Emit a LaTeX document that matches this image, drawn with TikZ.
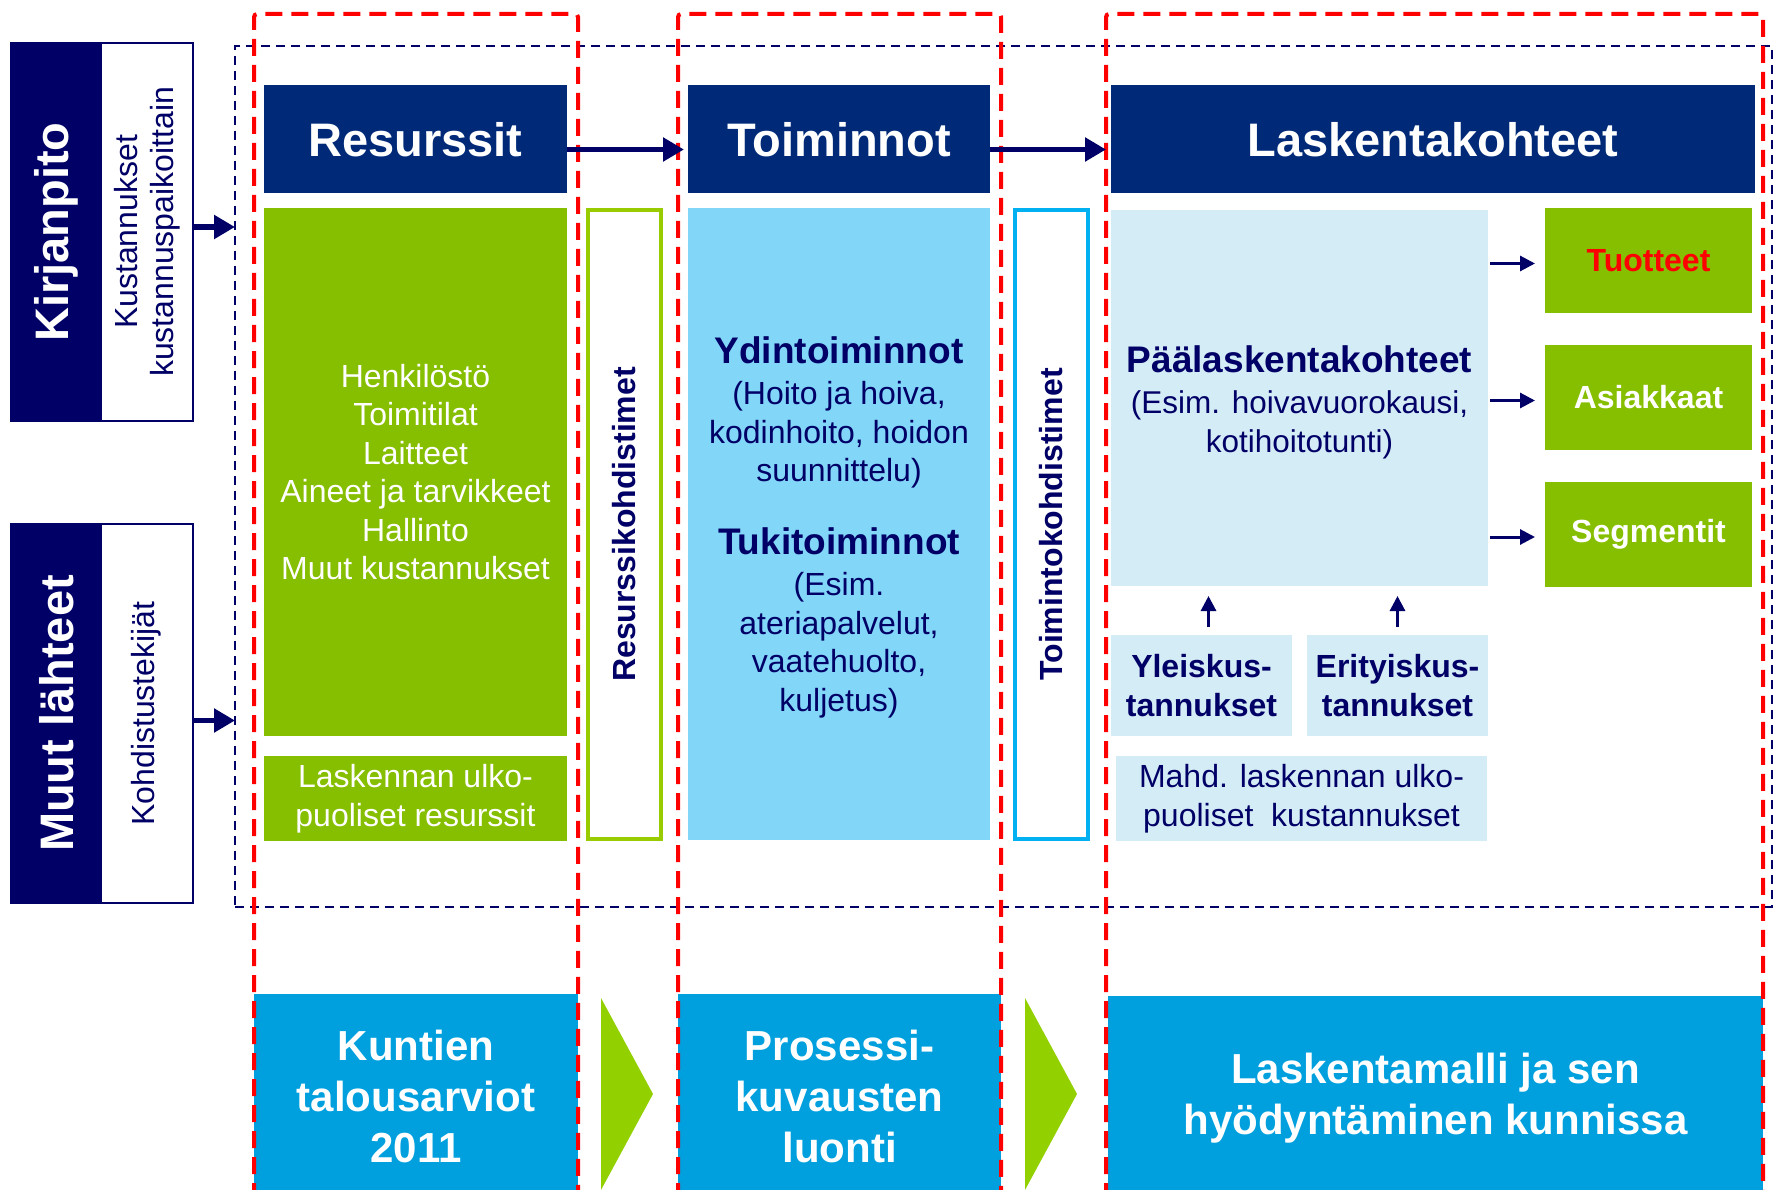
\documentclass[tikz,border=0pt]{standalone}
\usepackage{fontspec}
\setmainfont{Liberation Sans}
\usetikzlibrary{arrows.meta}
\definecolor{navy}{HTML}{000066}
\definecolor{hdrc}{HTML}{002A78}
\definecolor{grn}{HTML}{86BE00}
\definecolor{grnb}{HTML}{99CC00}
\definecolor{trig}{HTML}{92D000}
\definecolor{sky}{HTML}{82D6F7}
\definecolor{pale}{HTML}{D4ECF6}
\definecolor{bblue}{HTML}{00A0DE}
\definecolor{cyanb}{HTML}{00B0F0}
\definecolor{redd}{HTML}{FF0000}
\begin{document}
\begin{tikzpicture}[x=1pt,y=-1pt,
  every node/.style={inner sep=0pt, outer sep=0pt, align=center},
  hdr/.style={fill=hdrc, text=white, font=\fontsize{47}{56}\selectfont\bfseries, minimum height=108pt},
  body/.style={font=\fontsize{32}{38.5}\selectfont},
  greenbox/.style={fill=grn, text=white, body},
  palebox/.style={fill=pale, text=navy, body},
  bottombox/.style={fill=bblue, text=white, font=\fontsize{42}{51}\selectfont\bfseries},
  sidelabel/.style={rotate=90, text=white, font=\fontsize{47}{56}\selectfont\bfseries},
  sidesub/.style={rotate=90, text=navy, font=\fontsize{32}{36}\selectfont},
  vlabel/.style={rotate=90, text=navy, font=\fontsize{32}{36}\selectfont\bfseries},
  reddash/.style={draw=redd, line width=4pt, dash pattern=on 17pt off 9pt, rounded corners=3pt},
  bigarrow/.style={draw=navy, line width=5.5pt, -{Triangle[length=21pt,width=23pt]}},
  smallarrow/.style={draw=navy, line width=3pt, -{Triangle[length=15pt,width=15pt]}},
]
\useasboundingbox (0,0) rectangle (1778,1190);
\clip (0,0) rectangle (1778,1190);

% navy dashed frame
\node[draw=navy, line width=2.5pt, dash pattern=on 9pt off 6pt, minimum width=1537pt, minimum height=861pt] (frame) at (1003.5,476.5) {};

% side boxes
\node[draw=navy, line width=2.5pt, fill=white, minimum width=182pt, minimum height=378pt] (kirjbox) at (102,232) {};
\node[fill=navy, minimum width=91pt, minimum height=378pt] (kirjdark) at (56.5,232) {};
\node[sidelabel] (kirjt) at (kirjdark) {Kirjanpito};
\node[sidesub] (kustt) at (147.5,232) {Kustannukset\\kustannuspaikoittain};

\node[draw=navy, line width=2.5pt, fill=white, minimum width=182pt, minimum height=379pt] (muutbox) at (102,713.5) {};
\node[fill=navy, minimum width=91pt, minimum height=379pt] (muutdark) at (56.5,713.5) {};
\node[sidelabel] (muutt) at (muutdark) {Muut lähteet};
\node[sidesub] (kohdt) at (146,713.5) {Kohdistustekijät};

% headers
\node[hdr, minimum width=303pt] (res) at (415.5,139.5) {Resurssit};
\node[hdr, minimum width=302pt] (toi) at (839,139.5) {Toiminnot};
\node[hdr, minimum width=644pt] (lask) at (1433,139.5) {Laskentakohteet};

% resources column
\node[greenbox, minimum width=303pt, minimum height=528pt] (resbody) at (415.5,472)
  {Henkilöstö\\Toimitilat\\Laitteet\\Aineet ja tarvikkeet\\Hallinto\\Muut kustannukset};
\node[greenbox, minimum width=303pt, minimum height=85pt] (ulko) at (415.5,798.5)
  {Laskennan ulko-\\puoliset resurssit};
\node[draw=grnb, line width=4pt, fill=white, minimum width=73pt, minimum height=629pt] (resk) at (624.5,524.5) {};
\node[vlabel] (reskt) at (resk) {Resurssikohdistimet};

% activities column
\node[fill=sky, minimum width=302pt, minimum height=632pt] (toibody) at (839,524) {};
\node[text=navy, body] (toitext) at (839,527)
  {{\fontsize{37}{38.5}\selectfont\bfseries Ydintoiminnot}\\[3pt]
   (Hoito ja hoiva,\\kodinhoito, hoidon\\suunnittelu)\\[34pt]
   {\fontsize{37}{38.5}\selectfont\bfseries Tukitoiminnot}\\[3pt]
   (Esim.\\ateriapalvelut,\\vaatehuolto,\\kuljetus)};
\node[draw=cyanb, line width=4pt, fill=white, minimum width=73pt, minimum height=629pt] (toik) at (1051.5,524.5) {};
\node[vlabel] (toikt) at (toik) {Toimintokohdistimet};

% cost objects column
\node[fill=pale, minimum width=377pt, minimum height=376pt] (paa) at (1299.5,398) {};
\node[text=navy, font=\fontsize{31.5}{38.5}\selectfont] (paatext) at (1299.5,402)
  {{\fontsize{37}{38.5}\selectfont\bfseries Päälaskentakohteet}\\[3pt]
   (Esim. hoivavuorokausi,\\kotihoitotunti)};
\node[greenbox, font=\fontsize{32}{38.5}\selectfont\bfseries, text=redd, minimum width=207pt, minimum height=105pt] (tuo) at (1648.5,260.5) {Tuotteet};
\node[greenbox, font=\fontsize{32}{38.5}\selectfont\bfseries, minimum width=207pt, minimum height=105pt] (asi) at (1648.5,397.5) {Asiakkaat};
\node[greenbox, font=\fontsize{32}{38.5}\selectfont\bfseries, minimum width=207pt, minimum height=105pt] (seg) at (1648.5,534) {Segmentit};
\node[palebox, font=\fontsize{32}{38.5}\selectfont\bfseries, minimum width=181pt, minimum height=101pt] (yle) at (1201.5,685.5) {Yleiskus-\\tannukset};
\node[palebox, font=\fontsize{32}{38.5}\selectfont\bfseries, minimum width=181pt, minimum height=101pt] (eri) at (1397.5,685.5) {Erityiskus-\\tannukset};
\node[palebox, minimum width=371pt, minimum height=85pt] (mahd) at (1301.5,798.5) {Mahd. laskennan ulko-\\puoliset\ \ kustannukset};

% bottom process boxes
\node[bottombox, minimum width=324pt, minimum height=204pt] (kun) at (416,1096) {Kuntien\\talousarviot\\2011};
\node[bottombox, minimum width=323pt, minimum height=204pt] (pro) at (839.5,1096) {Prosessi-\\kuvausten\\luonti};
\node[bottombox, minimum width=655pt, minimum height=204pt] (lm) at (1435.5,1098) {Laskentamalli ja sen\\hyödyntäminen kunnissa};
\fill[trig] (601,998) -- (653,1094) -- (601,1190) -- cycle;
\fill[trig] (1025,998) -- (1077,1094) -- (1025,1190) -- cycle;

% red dashed phase columns
\draw[reddash] (254,1200) -- (254,14) -- (578,14) -- (578,1200);
\draw[reddash] (678,1200) -- (678,14) -- (1001,14) -- (1001,1200);
\draw[reddash] (1106,1200) -- (1106,14) -- (1763,14) -- (1763,1200);

% connectors
\draw[bigarrow] ([yshift=5pt]kirjbox.east) -- ([yshift=5pt]kirjbox.east -| frame.west);
\draw[bigarrow] ([yshift=-7pt]muutbox.east) -- ([yshift=-7pt]muutbox.east -| frame.west);
\draw[bigarrow, shorten >=4pt] ([yshift=-10pt]res.east) -- ([yshift=-10pt]toi.west);
\draw[bigarrow, shorten >=5pt] ([yshift=-10pt]toi.east) -- ([yshift=-10pt]lask.west);
\draw[smallarrow, shorten <=2pt, shorten >=10pt] ([yshift=-3pt]tuo.west -| paa.east) -- ([yshift=-3pt]tuo.west);
\draw[smallarrow, shorten <=2pt, shorten >=10pt] ([yshift=-3pt]asi.west -| paa.east) -- ([yshift=-3pt]asi.west);
\draw[smallarrow, shorten <=2pt, shorten >=10pt] ([yshift=-3pt]seg.west -| paa.east) -- ([yshift=-3pt]seg.west);
\draw[smallarrow, shorten <=8pt, shorten >=10pt] ([xshift=7pt]yle.north) -- ([xshift=7pt]yle.north |- paa.south);
\draw[smallarrow, shorten <=8pt, shorten >=10pt] (eri.north) -- (eri.north |- paa.south);
\end{tikzpicture}
\end{document}
